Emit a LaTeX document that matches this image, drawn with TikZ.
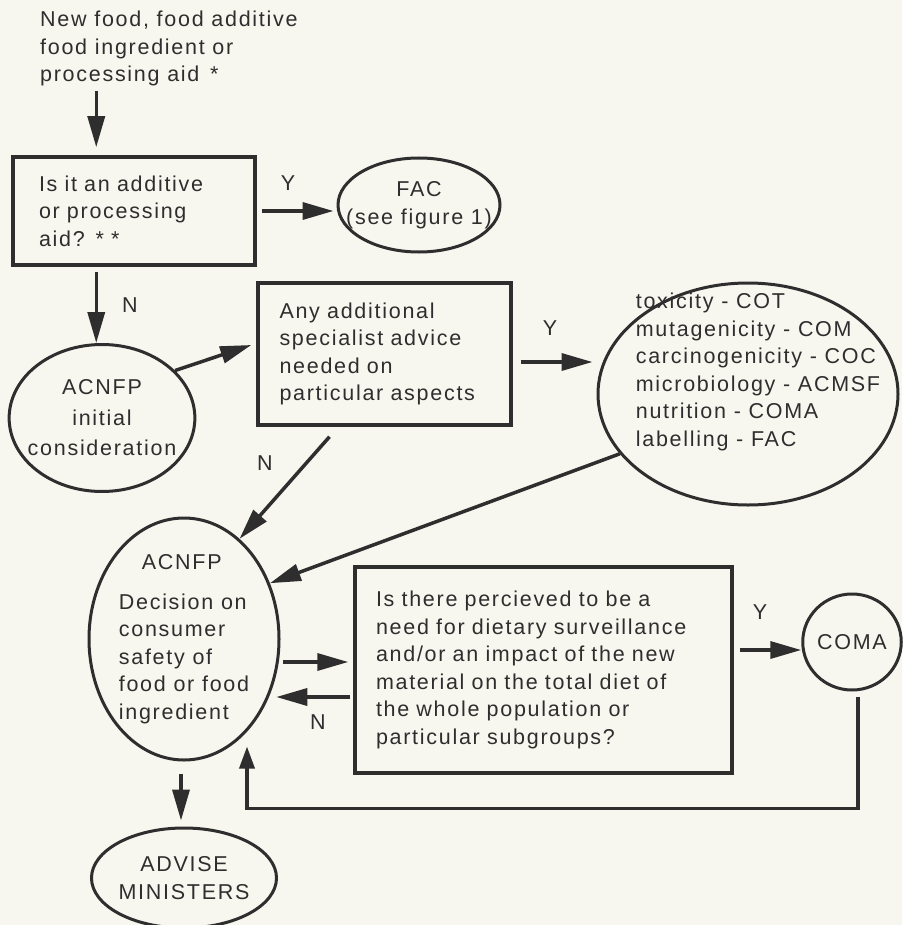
\documentclass[tikz,border=0pt]{standalone}
\usepackage{fontspec}
\setmainfont[LetterSpace=8]{Liberation Sans}
\usetikzlibrary{arrows.meta,shapes.geometric}
\definecolor{paper}{HTML}{F7F7EF}
\definecolor{ink}{HTML}{2E2E2E}
\tikzset{
	box/.style={draw=ink, line width=3.5pt, rectangle, inner sep=0pt, align=left},
	oval/.style={draw=ink, line width=3pt, ellipse, inner sep=0pt, align=center},
	arr/.style={draw=ink, line width=3.5pt, -{Triangle[length=31pt,width=17pt]}},
}
\begin{document}
\begin{tikzpicture}[x=1pt, y=-1pt, font=\fontsize{21.5}{27.5}\selectfont, text=ink]
	\fill[paper] (0,0) rectangle (902,925);
	\useasboundingbox (0,0) rectangle (902,925);
	\node[align=left, anchor=north west, inner sep=0pt] (intro) at (40,11) {New food, food additive\\food ingredient or\\processing aid\enspace*};
	\node[box, minimum width=242pt, minimum height=108pt, text width=190pt] (isadd) at (134,211) {Is it an additive\\or processing\\aid? * *};
	\node[oval, inner xsep=-20pt, minimum width=162pt, minimum height=94pt] (fac) at (419,205) {FAC\\(see figure 1)};
	\node[oval, inner xsep=-8.6pt, minimum width=185pt, minimum height=147pt] (init) at (102,418) {ACNFP\\[3pt]initial\\[3pt]consideration};
	\node[box, minimum width=253pt, minimum height=142pt, text width=210pt] (extra) at (384.5,354) {Any additional\\specialist advice\\needed on\\particular aspects};
	\node[oval, minimum width=300pt, minimum height=222pt, label={[align=left, xshift=10pt, yshift=22pt]center:{toxicity - COT\\mutagenicity - COM\\carcinogenicity - COC\\microbiology - ACMSF\\nutrition - COMA\\labelling - FAC}}] (spec) at (748,394) {};
	\node[oval, align=left, minimum width=190pt, minimum height=242pt] (dec) at (184,639) {\hspace*{23pt}ACNFP\\[12pt]Decision on\\consumer\\safety of\\food or food\\ingredient};
	\node[box, minimum width=377pt, minimum height=206pt, text width=335pt] (surv) at (543.5,670) {Is there percieved to be a\\need for dietary surveillance\\and/or an impact of the new\\material on the total diet of\\the whole population or\\particular subgroups?};
	\node[oval, minimum width=96pt, minimum height=96pt] (coma) at (852,642) {COMA};
	\node[oval, minimum width=182pt, minimum height=100pt] (advise) at (184,878) {ADVISE\\MINISTERS};
	\node (yfac) at (288,183) {Y};
	\node (nisadd) at (130,305) {N};
	\node (yspec) at (550,328) {Y};
	\node (nextra) at (265,463) {N};
	\node (nsurv) at (318,722) {N};
	\node (ycoma) at (760,612) {Y};
	\draw[arr] ([xshift=85pt,yshift=64pt]isadd.north west) -- ([xshift=85pt,yshift=8pt]isadd.north west);
	\draw[arr] ([xshift=5pt]isadd.east) -- ([xshift=-3pt]isadd.east -| fac.west);
	\draw[arr] ([xshift=85pt,yshift=-5pt]isadd.south west) -- ([xshift=85pt]isadd.south west |- init.north);
	\draw[arr] (init.33) -- ([xshift=-5pt,yshift=9pt]extra.west);
	\draw[arr] ([xshift=8pt,yshift=-8pt]extra.east) -- ([xshift=-4pt,yshift=-8pt]extra.east -| spec.west);
	\draw[arr] ([xshift=-55pt,yshift=-10pt]extra.south) -- (dec.61);
	\draw[arr] (spec.205) -- (dec.33);
	\draw[arr] ([xshift=-70pt,yshift=8pt]surv.west) -- ([xshift=-5pt,yshift=8pt]surv.west);
	\draw[arr] ([xshift=-3pt,yshift=-27pt]surv.west) -- ([xshift=-77pt,yshift=-27pt]surv.west);
	\draw[arr] ([xshift=6pt,yshift=20pt]surv.east) -- ([yshift=20pt]surv.east -| coma.west);
	\draw[arr, -{Triangle[length=22pt,width=15pt]}] ([xshift=6pt,yshift=-5pt]coma.south) |- ([xshift=63pt,yshift=-47pt]dec.south) -- ([xshift=63pt,yshift=15pt]dec.south);
	\draw[arr] ([xshift=-3pt,yshift=-12pt]dec.south) -- ([xshift=-3pt,yshift=6pt]advise.north);
\end{tikzpicture}
\end{document}
